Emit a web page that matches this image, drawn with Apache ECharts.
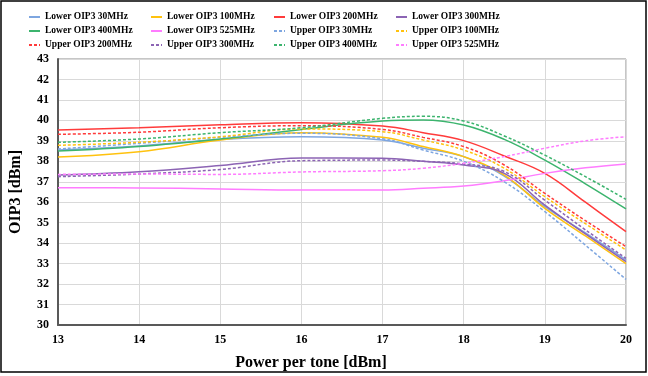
<!DOCTYPE html>
<html>
<head>
<meta charset="utf-8">
<script src="https://cdn.jsdelivr.net/npm/echarts@6/dist/echarts.min.js"></script>
<style>
  html, body { margin: 0; padding: 0; background: #fff; }
  #main { width: 648px; height: 376px; }
</style>
</head>
<body>
<div id="main"></div>
<script>
// power per tone (dBm)
const powerX = [13, 14, 15, 16, 17, 17.5, 18, 18.5, 19, 19.5, 20];

const lower30 = [38.55, 38.75, 39.07, 39.2, 39.04, 38.64, 38.23, 37.28, 35.78, 34.5, 33.18];
const lower100 = [38.21, 38.47, 39.04, 39.4, 39.17, 38.72, 38.23, 37.33, 35.7, 34.35, 33.0];
const lower200 = [39.53, 39.64, 39.79, 39.89, 39.72, 39.4, 39.01, 38.26, 37.41, 36.0, 34.56];
const lower300 = [37.33, 37.49, 37.8, 38.16, 38.15, 38.0, 37.82, 37.41, 35.86, 34.45, 33.1];
const lower400 = [38.5, 38.72, 39.09, 39.56, 39.97, 40.02, 39.77, 39.07, 38.06, 36.9, 35.67];
const lower525 = [36.71, 36.7, 36.65, 36.6, 36.6, 36.68, 36.79, 37.05, 37.41, 37.68, 37.87];
const upper30 = [38.6, 38.88, 39.17, 39.37, 39.1, 38.55, 38.0, 37.0, 35.54, 33.9, 32.23];
const upper100 = [38.78, 38.93, 39.2, 39.58, 39.45, 39.04, 38.55, 37.66, 36.27, 34.95, 33.67];
const upper200 = [39.32, 39.42, 39.64, 39.74, 39.56, 39.17, 38.72, 37.82, 36.43, 35.1, 33.83];
const upper300 = [37.25, 37.38, 37.6, 38.03, 38.06, 38.0, 37.87, 37.5, 36.1, 34.65, 33.26];
const upper400 = [38.93, 39.09, 39.4, 39.64, 40.1, 40.2, 39.97, 39.24, 38.3, 37.25, 36.14];
const upper525 = [37.36, 37.38, 37.36, 37.48, 37.54, 37.66, 37.9, 38.23, 38.64, 39.0, 39.2];

const seriesNames = [
  'Lower OIP3 30MHz', 'Lower OIP3 100MHz', 'Lower OIP3 200MHz', 'Lower OIP3 300MHz',
  'Lower OIP3 400MHz', 'Lower OIP3 525MHz', 'Upper OIP3 30MHz', 'Upper OIP3 100MHz',
  'Upper OIP3 200MHz', 'Upper OIP3 300MHz', 'Upper OIP3 400MHz', 'Upper OIP3 525MHz'
];
const seriesValues = [lower30, lower100, lower200, lower300, lower400, lower525,
  upper30, upper100, upper200, upper300, upper400, upper525];
const seriesColors = ['#7ea6e0', '#ffc20e', '#ff3b3b', '#8c64b4', '#3cb46e', '#ff7cff',
  '#7ea6e0', '#ffc20e', '#ff3b3b', '#8c64b4', '#3cb46e', '#ff7cff'];

const serif = "'Liberation Serif', 'Times New Roman', serif";

let chart = echarts.init(document.getElementById('main'), null, { renderer: 'canvas' });

let series = seriesNames.map((name, i) => ({
  name: name,
  type: 'line',
  smooth: 0.4,
  symbol: 'none',
  data: powerX.map((x, j) => [x, seriesValues[i][j]]),
  lineStyle: {
    color: seriesColors[i],
    width: 1.5,
    type: i < 6 ? 'solid' : [3, 2]
  },
  itemStyle: { color: seriesColors[i] }
}));

// one legend per column, 3 rows each
const legendLefts = [23, 145, 268, 390];
let legends = legendLefts.map((left, c) => ({
  orient: 'vertical',
  left: left,
  top: 7,
  itemWidth: 11,
  itemHeight: 8,
  itemGap: 4,
  itemStyle: { opacity: 0 },
  data: [seriesNames[c], seriesNames[c + 4], seriesNames[c + 8]],
  textStyle: { fontFamily: serif, fontWeight: 'bold', fontSize: 9.5, color: '#000' }
}));

let options = {
  animation: false,
  backgroundColor: '#fff',
  legend: legends,
  grid: {
    left: 49,
    right: 22,
    top: 59,
    bottom: 51,
    show: true,
    borderColor: '#8c8c8c',
    borderWidth: 1
  },
  xAxis: {
    type: 'value',
    min: 13,
    max: 20,
    interval: 1,
    name: 'Power per tone [dBm]',
    nameLocation: 'middle',
    nameGap: 30,
    nameTextStyle: { fontFamily: serif, fontWeight: 'bold', fontSize: 16, color: '#000', padding: [0, 62, 0, 0] },
    axisLine: { lineStyle: { color: '#595959', width: 2 } },
    axisTick: { show: false },
    axisLabel: { fontFamily: serif, fontWeight: 'bold', fontSize: 12, color: '#000', margin: 9 },
    splitLine: { lineStyle: { color: '#d9d9d9', width: 1 } }
  },
  yAxis: {
    type: 'value',
    min: 30,
    max: 43,
    interval: 1,
    name: 'OIP3 [dBm]',
    nameLocation: 'middle',
    nameGap: 34,
    nameRotate: 90,
    nameTextStyle: { fontFamily: serif, fontWeight: 'bold', fontSize: 16, color: '#000' },
    axisLine: { show: true, lineStyle: { color: '#595959', width: 2 } },
    axisTick: { show: false },
    axisLabel: { fontFamily: serif, fontWeight: 'bold', fontSize: 12, color: '#000', margin: 9 },
    splitLine: { lineStyle: { color: '#d9d9d9', width: 1 } }
  },
  graphic: [{
    type: 'rect',
    shape: { x: 1, y: 1, width: 645, height: 371 },
    style: { fill: 'none', stroke: '#000', lineWidth: 1.5 },
    silent: true
  }],
  series: series
};

chart.setOption(options);
</script>
</body>
</html>
